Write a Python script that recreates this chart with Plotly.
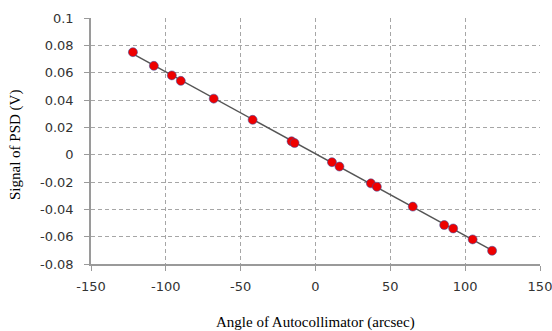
import numpy as np
import plotly.graph_objects as go

angle = [-122, -108, -96, -90, -68, -42, -16, -14, 11, 16, 37, 41, 65, 86, 92, 105, 118]
signal = [0.075, 0.065, 0.058, 0.054, 0.041, 0.0255, 0.0098, 0.0085, -0.0055, -0.0087,
          -0.021, -0.0235, -0.038, -0.0515, -0.054, -0.062, -0.0703]

x_ticks = [-150, -100, -50, 0, 50, 100, 150]
y_ticks = [-0.08, -0.06, -0.04, -0.02, 0, 0.02, 0.04, 0.06, 0.08, 0.1]
y_labels = ["-0.08", "-0.06", "-0.04", "-0.02", "0", "0.02", "0.04", "0.06", "0.08", "0.1"]

slope, intercept = np.polyfit(angle, signal, 1)
fit_x = [min(angle), max(angle)]
fit_y = [slope * v + intercept for v in fit_x]

fig = go.Figure()
fig.add_trace(go.Scatter(x=fit_x, y=fit_y, mode="lines",
                         line=dict(color="#555555", width=1.5), showlegend=False,
                         hoverinfo="skip"))
fig.add_trace(go.Scatter(x=angle, y=signal, mode="markers",
                         marker=dict(color="#ee0000", size=9,
                                     line=dict(color="rgba(60,80,160,0.7)", width=0.8)),
                         showlegend=False))

tick_font = dict(family="DejaVu Sans", size=13, color="#333333")
title_font = dict(family="Liberation Serif", size=15, color="#000000")

fig.update_layout(
    width=552, height=331,
    margin=dict(l=91, r=12, t=18, b=67),
    paper_bgcolor="white", plot_bgcolor="white",
    xaxis=dict(range=[-150, 150], tickvals=x_ticks, ticktext=[str(v) for v in x_ticks],
               showgrid=True, gridcolor="#a6a6a6", griddash="4px,3px", gridwidth=1,
               zeroline=False, showline=True, linecolor="#9a9a9a", linewidth=1.5,
               ticks="outside", ticklen=5, tickcolor="#9a9a9a", automargin=False,
               tickfont=tick_font, ticklabelstandoff=5, ticklabeloverflow="allow"),
    yaxis=dict(range=[-0.08, 0.1], tickvals=y_ticks, ticktext=y_labels,
               showgrid=True, gridcolor="#a6a6a6", griddash="4px,3px", gridwidth=1,
               zeroline=False, showline=True, linecolor="#9a9a9a", linewidth=1.5,
               ticks="outside", ticklen=5, tickcolor="#9a9a9a", automargin=False,
               tickfont=tick_font, ticklabelstandoff=8, ticklabeloverflow="allow"),
    annotations=[
        dict(text="Angle of Autocollimator (arcsec)", xref="paper", yref="paper",
             x=0.5, y=0, yshift=-58, showarrow=False, font=title_font,
             xanchor="center", yanchor="middle"),
        dict(text="Signal of PSD (V)", xref="paper", yref="paper", textangle=-90,
             x=0, xshift=-76, y=0.5, yshift=-4, showarrow=False, font=title_font,
             xanchor="center", yanchor="middle"),
    ],
)

fig.write_html("out.html", config={"displayModeBar": False},
               post_script="document.body.style.margin='0';document.body.style.overflow='hidden';")
